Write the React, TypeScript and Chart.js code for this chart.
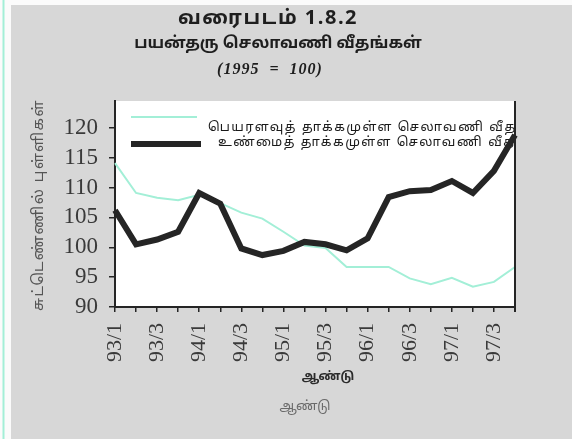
import React, { useEffect, useRef } from 'react';
import { Chart, registerables } from 'chart.js';

Chart.register(...registerables);

const quarters = [
  '93/1', '93/2', '93/3', '93/4',
  '94/1', '94/2', '94/3', '94/4',
  '95/1', '95/2', '95/3', '95/4',
  '96/1', '96/2', '96/3', '96/4',
  '97/1', '97/2', '97/3', '97/4',
];

const nominalRate = [
  114.1, 109.1, 108.3, 107.9, 108.8, 107.4, 105.8, 104.8, 102.6, 100.3,
  99.9, 96.7, 96.7, 96.7, 94.8, 93.8, 94.9, 93.4, 94.2, 96.7,
];

const realRate = [
  106.2, 100.5, 101.3, 102.6, 109.1, 107.3, 99.8, 98.7, 99.4, 100.9,
  100.5, 99.5, 101.5, 108.4, 109.4, 109.6, 111.1, 109.1, 112.8, 118.8,
];

const yMin = 90;
const yMax = 124.5;
const yStep = 5;

const titleLines = ['வரைபடம் 1.8.2', 'பயன்தரு செலாவணி வீதங்கள்', '(1995  =  100)'];
const seriesLabels = ['பெயரளவுத் தாக்கமுள்ள செலாவணி வீதம்', 'உண்மைத் தாக்கமுள்ள செலாவணி வீதம்'];
const yTitle = 'சுட்டெண்ணில் புள்ளிகள்';
const xTitle = 'ஆண்டு';

const TAMIL = "'Noto Sans Tamil', 'Noto Serif Tamil', 'Lohit Tamil', 'Latha', sans-serif";
const SERIF = "'Liberation Serif', 'DejaVu Serif', serif";
const MINT = '#a3efd7';
const INK = '#252525';

const decor = {
  id: 'decor',
  beforeDraw(chart: any) {
    const { ctx, width, height, chartArea: a } = chart;
    ctx.save();
    ctx.fillStyle = '#fbfbfb';
    ctx.fillRect(0, 0, width, height);
    ctx.fillStyle = '#d7d7d7';
    ctx.fillRect(11, 5, width - 11, height - 5);
    ctx.strokeStyle = MINT;
    ctx.lineWidth = 2;
    ctx.beginPath();
    ctx.moveTo(3.5, 0);
    ctx.lineTo(3.5, height);
    ctx.stroke();
    ctx.fillStyle = '#ffffff';
    ctx.fillRect(a.left, a.top, a.right - a.left, a.bottom - a.top);
    ctx.restore();
  },
  beforeDatasetsDraw(chart: any) {
    const { ctx, chartArea: a } = chart;
    const ds = chart.data.datasets;
    ctx.save();
    ctx.beginPath();
    ctx.rect(a.left, a.top, a.right - a.left, a.bottom - a.top);
    ctx.clip();
    ctx.lineCap = 'butt';
    ctx.strokeStyle = ds[0].borderColor;
    ctx.lineWidth = 2;
    ctx.beginPath();
    ctx.moveTo(131, 117);
    ctx.lineTo(197, 117);
    ctx.stroke();
    ctx.strokeStyle = ds[1].borderColor;
    ctx.lineWidth = 6;
    ctx.beginPath();
    ctx.moveTo(131, 144);
    ctx.lineTo(201, 144);
    ctx.stroke();
    ctx.fillStyle = '#1a1a1a';
    ctx.font = `13px ${TAMIL}`;
    ctx.textBaseline = 'middle';
    ctx.textAlign = 'left';
    (ctx as any).letterSpacing = '1.5px';
    ctx.fillText(ds[0].label, 208, 128);
    ctx.fillText(ds[1].label, 218, 143);
    ctx.restore();
  },
  afterDraw(chart: any) {
    const { ctx, chartArea: a } = chart;
    ctx.save();
    ctx.strokeStyle = INK;
    ctx.lineWidth = 2;
    ctx.beginPath();
    ctx.moveTo(a.right, a.top);
    ctx.lineTo(a.right, a.bottom + 5);
    ctx.stroke();
    ctx.fillStyle = '#1e1e1e';
    ctx.textAlign = 'center';
    ctx.textBaseline = 'middle';
    (ctx as any).letterSpacing = '1.5px';
    ctx.font = `bold 20px ${TAMIL}`;
    ctx.fillText(titleLines[0], 268, 20);
    (ctx as any).letterSpacing = '0px';
    ctx.font = `bold 16px ${TAMIL}`;
    ctx.fillText(titleLines[1], 278, 45);
    (ctx as any).letterSpacing = '1px';
    ctx.font = `italic bold 16px ${SERIF}`;
    ctx.fillText(titleLines[2], 270, 70);
    (ctx as any).letterSpacing = '0px';
    ctx.fillStyle = '#2a2a2a';
    ctx.font = `bold 12px ${TAMIL}`;
    ctx.fillText(xTitle, 328, 378);
    ctx.fillStyle = '#6a6a6a';
    ctx.font = `13px ${TAMIL}`;
    ctx.fillText(xTitle, 305, 407);
    ctx.translate(40, 205);
    ctx.rotate(-Math.PI / 2);
    ctx.fillStyle = '#555555';
    (ctx as any).letterSpacing = '1.5px';
    ctx.font = `15px ${TAMIL}`;
    ctx.fillText(yTitle, 0, 0);
    ctx.restore();
  },
};

export default function App() {
  const ref = useRef<HTMLCanvasElement | null>(null);

  useEffect(() => {
    document.body.style.margin = '0';
    if (!ref.current) return;
    const chart = new Chart(ref.current, {
      type: 'line',
      data: {
        labels: quarters,
        datasets: [
          {
            label: seriesLabels[0],
            data: nominalRate,
            borderColor: MINT,
            borderWidth: 2,
            pointRadius: 0,
            tension: 0,
            order: 1,
          },
          {
            label: seriesLabels[1],
            data: realRate,
            borderColor: INK,
            borderWidth: 6,
            pointRadius: 0,
            tension: 0,
            order: 0,
          },
        ],
      },
      options: {
        animation: false,
        responsive: false,
        layout: { padding: { top: 101, right: 57, left: 0, bottom: 0 } },
        plugins: { legend: { display: false }, title: { display: false }, tooltip: { enabled: false } },
        scales: {
          x: {
            type: 'category',
            offset: false,
            grid: { drawOnChartArea: false, drawTicks: true, tickLength: 5, color: INK, lineWidth: 1.5 },
            border: { display: true, color: INK, width: 2 },
            ticks: {
              autoSkip: false,
              minRotation: 90,
              maxRotation: 90,
              padding: 11,
              color: '#3a3a3a',
              font: { family: SERIF, size: 22 },
              callback: (_v: any, i: number) => (i % 2 === 0 ? quarters[i] : ''),
            },
            afterFit: (s: any) => { s.height = 132; },
          },
          y: {
            min: yMin,
            max: yMax,
            grid: { drawOnChartArea: false, drawTicks: true, tickLength: 6, color: INK, lineWidth: 1.5 },
            border: { display: true, color: INK, width: 2 },
            ticks: {
              stepSize: yStep,
              includeBounds: false,
              padding: 11,
              color: '#3a3a3a',
              font: { family: SERIF, size: 23 },
            },
            afterFit: (s: any) => { s.width = 115; },
          },
        },
      },
      plugins: [decor],
    } as any);
    return () => chart.destroy();
  }, []);

  return <canvas ref={ref} width={572} height={439} style={{ display: 'block' }} />;
}
